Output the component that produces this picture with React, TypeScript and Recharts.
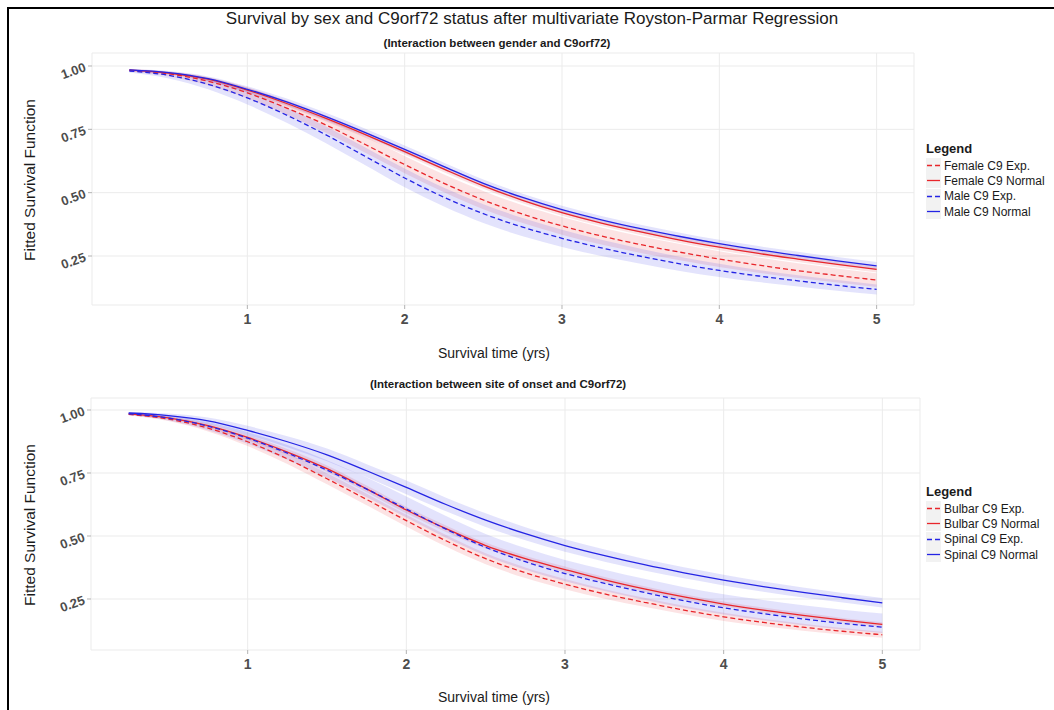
import React from 'react';
import { ComposedChart, Line, Area, XAxis, YAxis, CartesianGrid } from 'recharts';

const FONT = '"Liberation Sans", Arial, Helvetica, sans-serif';

// Survival time (years) at which the fitted curves are read
const times = [0.25, 0.5, 0.75, 1, 1.25, 1.5, 1.75, 2, 2.25, 2.5, 2.75, 3, 3.25, 3.5, 3.75, 4, 4.25, 4.5, 4.75, 5];
const xTicks = [1, 2, 3, 4, 5];
const yTicks = [0.25, 0.5, 0.75, 1.0];

// ---- Top panel: gender x C9orf72 ----
const femaleExp = [0.983, 0.969, 0.940, 0.894, 0.834, 0.767, 0.690, 0.611, 0.537, 0.471, 0.415, 0.369, 0.329, 0.295, 0.265, 0.238, 0.214, 0.192, 0.173, 0.155];
const femaleExpLo = [0.978, 0.959, 0.924, 0.872, 0.808, 0.737, 0.658, 0.577, 0.502, 0.435, 0.380, 0.334, 0.295, 0.262, 0.233, 0.207, 0.184, 0.163, 0.145, 0.128];
const femaleExpHi = [0.987, 0.978, 0.955, 0.915, 0.859, 0.796, 0.722, 0.645, 0.572, 0.507, 0.450, 0.404, 0.363, 0.328, 0.297, 0.269, 0.244, 0.221, 0.201, 0.182];
const femaleNormal = [0.984, 0.972, 0.948, 0.905, 0.852, 0.793, 0.729, 0.662, 0.593, 0.527, 0.470, 0.421, 0.380, 0.345, 0.313, 0.285, 0.260, 0.238, 0.217, 0.197];
const femaleNormalLo = [0.981, 0.967, 0.940, 0.895, 0.840, 0.781, 0.717, 0.650, 0.581, 0.515, 0.458, 0.409, 0.368, 0.333, 0.301, 0.273, 0.248, 0.226, 0.205, 0.185];
const femaleNormalHi = [0.987, 0.977, 0.956, 0.915, 0.864, 0.805, 0.741, 0.674, 0.605, 0.539, 0.482, 0.433, 0.392, 0.357, 0.325, 0.297, 0.272, 0.250, 0.229, 0.209];
const maleExp = [0.980, 0.963, 0.928, 0.874, 0.806, 0.728, 0.643, 0.558, 0.482, 0.417, 0.364, 0.320, 0.282, 0.249, 0.219, 0.193, 0.171, 0.152, 0.134, 0.118];
const maleExpLo = [0.974, 0.951, 0.908, 0.848, 0.776, 0.695, 0.608, 0.521, 0.445, 0.380, 0.328, 0.286, 0.250, 0.219, 0.191, 0.167, 0.147, 0.130, 0.113, 0.098];
const maleExpHi = [0.986, 0.975, 0.948, 0.900, 0.836, 0.761, 0.678, 0.595, 0.519, 0.454, 0.400, 0.354, 0.314, 0.279, 0.247, 0.219, 0.195, 0.174, 0.155, 0.138];
const maleNormal = [0.985, 0.974, 0.950, 0.908, 0.858, 0.800, 0.737, 0.671, 0.603, 0.537, 0.481, 0.433, 0.393, 0.358, 0.327, 0.299, 0.274, 0.252, 0.231, 0.211];
const maleNormalLo = [0.982, 0.968, 0.941, 0.896, 0.844, 0.785, 0.722, 0.656, 0.588, 0.522, 0.466, 0.418, 0.378, 0.343, 0.312, 0.284, 0.259, 0.237, 0.216, 0.196];
const maleNormalHi = [0.988, 0.980, 0.959, 0.920, 0.872, 0.815, 0.752, 0.686, 0.618, 0.552, 0.496, 0.448, 0.408, 0.373, 0.342, 0.314, 0.289, 0.267, 0.246, 0.226];

// ---- Bottom panel: site of onset x C9orf72 ----
const bulbarExp = [0.983, 0.964, 0.928, 0.874, 0.806, 0.727, 0.645, 0.561, 0.481, 0.410, 0.354, 0.309, 0.270, 0.237, 0.206, 0.179, 0.157, 0.138, 0.122, 0.108];
const bulbarExpLo = [0.979, 0.956, 0.915, 0.857, 0.786, 0.705, 0.622, 0.538, 0.458, 0.388, 0.333, 0.289, 0.251, 0.219, 0.189, 0.163, 0.142, 0.124, 0.109, 0.096];
const bulbarExpHi = [0.987, 0.972, 0.941, 0.891, 0.826, 0.749, 0.668, 0.584, 0.504, 0.432, 0.375, 0.329, 0.289, 0.255, 0.223, 0.195, 0.172, 0.152, 0.135, 0.120];
const bulbarNormal = [0.985, 0.969, 0.938, 0.891, 0.833, 0.767, 0.687, 0.603, 0.529, 0.462, 0.410, 0.367, 0.326, 0.290, 0.258, 0.230, 0.206, 0.185, 0.166, 0.149];
const bulbarNormalLo = [0.982, 0.964, 0.930, 0.881, 0.821, 0.754, 0.674, 0.590, 0.516, 0.450, 0.398, 0.355, 0.315, 0.279, 0.247, 0.220, 0.196, 0.175, 0.157, 0.140];
const bulbarNormalHi = [0.988, 0.974, 0.946, 0.901, 0.845, 0.780, 0.700, 0.616, 0.542, 0.474, 0.422, 0.379, 0.337, 0.301, 0.269, 0.240, 0.216, 0.195, 0.175, 0.158];
const spinalExp = [0.985, 0.968, 0.936, 0.888, 0.829, 0.761, 0.686, 0.607, 0.527, 0.455, 0.398, 0.351, 0.312, 0.276, 0.243, 0.215, 0.192, 0.171, 0.153, 0.138];
const spinalExpLo = [0.980, 0.958, 0.920, 0.866, 0.803, 0.731, 0.654, 0.573, 0.493, 0.422, 0.366, 0.320, 0.282, 0.247, 0.215, 0.188, 0.166, 0.146, 0.129, 0.115];
const spinalExpHi = [0.989, 0.978, 0.952, 0.912, 0.861, 0.801, 0.732, 0.657, 0.579, 0.508, 0.452, 0.405, 0.366, 0.330, 0.297, 0.269, 0.246, 0.225, 0.207, 0.192];
const spinalNormal = [0.988, 0.978, 0.957, 0.919, 0.874, 0.822, 0.759, 0.693, 0.625, 0.563, 0.509, 0.462, 0.422, 0.386, 0.354, 0.325, 0.299, 0.276, 0.255, 0.235];
const spinalNormalLo = [0.984, 0.970, 0.944, 0.901, 0.852, 0.797, 0.733, 0.666, 0.598, 0.536, 0.483, 0.437, 0.398, 0.363, 0.332, 0.304, 0.279, 0.256, 0.236, 0.216];
const spinalNormalHi = [0.992, 0.986, 0.970, 0.937, 0.896, 0.847, 0.785, 0.720, 0.652, 0.590, 0.535, 0.487, 0.446, 0.409, 0.376, 0.346, 0.319, 0.296, 0.274, 0.254];

const RED = '#e8262b';
const BLUE = '#2424e4';

type Series = { key: string; name: string; color: string; dashed: boolean; vals: number[]; lo: number[]; hi: number[] };

const topSeries: Series[] = [
  { key: 'fe', name: 'Female C9 Exp.', color: RED, dashed: true, vals: femaleExp, lo: femaleExpLo, hi: femaleExpHi },
  { key: 'fn', name: 'Female C9 Normal', color: RED, dashed: false, vals: femaleNormal, lo: femaleNormalLo, hi: femaleNormalHi },
  { key: 'me', name: 'Male C9 Exp.', color: BLUE, dashed: true, vals: maleExp, lo: maleExpLo, hi: maleExpHi },
  { key: 'mn', name: 'Male C9 Normal', color: BLUE, dashed: false, vals: maleNormal, lo: maleNormalLo, hi: maleNormalHi },
];

const bottomSeries: Series[] = [
  { key: 'be', name: 'Bulbar C9 Exp.', color: RED, dashed: true, vals: bulbarExp, lo: bulbarExpLo, hi: bulbarExpHi },
  { key: 'bn', name: 'Bulbar C9 Normal', color: RED, dashed: false, vals: bulbarNormal, lo: bulbarNormalLo, hi: bulbarNormalHi },
  { key: 'se', name: 'Spinal C9 Exp.', color: BLUE, dashed: true, vals: spinalExp, lo: spinalExpLo, hi: spinalExpHi },
  { key: 'sn', name: 'Spinal C9 Normal', color: BLUE, dashed: false, vals: spinalNormal, lo: spinalNormalLo, hi: spinalNormalHi },
];

function buildRows(series: Series[]) {
  return times.map((t, i) => {
    const row: any = { t };
    series.forEach((s) => {
      row[s.key] = s.vals[i];
      row[s.key + 'Band'] = [s.lo[i], s.hi[i]];
    });
    return row;
  });
}

const XTick = (props: any) => {
  const { x, y, payload } = props;
  return (
    <text x={x} y={y + 13} textAnchor="middle" fontFamily={FONT} fontSize={14} fontWeight="bold" fill="#4d4d4d">
      {payload.value}
    </text>
  );
};

const YTick = (props: any) => {
  const { x, y, payload } = props;
  const ax = x - 1;
  return (
    <text
      x={ax}
      y={y + 5}
      textAnchor="end"
      transform={`rotate(-20 ${ax} ${y})`}
      fontFamily={FONT}
      fontSize={13}
      fontWeight="bold"
      fill="#4d4d4d"
    >
      {Number(payload.value).toFixed(2)}
    </text>
  );
};

function LegendBox({ series, left, top }: { series: Series[]; left: number; top: number }) {
  return (
    <div style={{ position: 'absolute', left, top, fontFamily: FONT, color: '#1a1a1a' }}>
      <div style={{ fontWeight: 'bold', fontSize: 13, lineHeight: '16px', marginBottom: 1 }}>Legend</div>
      {series.map((s) => (
        <div key={s.key} style={{ display: 'flex', alignItems: 'center', height: 15.3, fontSize: 12 }}>
          <svg width={15} height={15} style={{ marginRight: 3, display: 'block' }}>
            <rect x={0} y={0} width={15} height={15} fill="#f2f2f2" />
            <line x1={1} y1={7.5} x2={14} y2={7.5} stroke={s.color} strokeWidth={1.3} strokeDasharray={s.dashed ? '5 3' : undefined} />
          </svg>
          <span style={{ whiteSpace: 'nowrap' }}>{s.name}</span>
        </div>
      ))}
    </div>
  );
}

function Panel({ series, top, yDomain, marginLeft, marginRight }: { series: Series[]; top: number; yDomain: [number, number]; marginLeft: number; marginRight: number }) {
  const rows = buildRows(series);
  return (
    <div style={{ position: 'absolute', left: 0, top, width: 1054, height: 345 }}>
      <ComposedChart width={1054} height={345} data={rows} margin={{ top: 53, right: marginRight, bottom: 10, left: marginLeft }}>
        <CartesianGrid stroke="#ebebeb" strokeWidth={1} />
        <XAxis
          type="number"
          dataKey="t"
          domain={[0.0125, 5.2375]}
          ticks={xTicks}
          interval={0}
          allowDataOverflow
          axisLine={false}
          tickLine={{ stroke: '#b3b3b3' }}
          tickSize={4}
          height={30}
          tick={<XTick />}
        />
        <YAxis
          type="number"
          domain={yDomain}
          ticks={yTicks}
          interval={0}
          allowDataOverflow
          axisLine={false}
          tickLine={{ stroke: '#b3b3b3' }}
          tickSize={4}
          width={60}
          tick={<YTick />}
        />
        {series.map((s) => (
          <Area
            key={s.key + 'Band'}
            dataKey={s.key + 'Band'}
            type="monotone"
            stroke="none"
            fill={s.color}
            fillOpacity={0.13}
            isAnimationActive={false}
            activeDot={false}
          />
        ))}
        {series.map((s) => (
          <Line
            key={s.key}
            dataKey={s.key}
            name={s.name}
            type="monotone"
            stroke={s.color}
            strokeWidth={1.3}
            strokeDasharray={s.dashed ? '5 3' : undefined}
            dot={false}
            activeDot={false}
            isAnimationActive={false}
          />
        ))}
      </ComposedChart>
    </div>
  );
}

const textBase: React.CSSProperties = { position: 'absolute', fontFamily: FONT, whiteSpace: 'nowrap', lineHeight: 1 };

export default function App() {
  return (
    <div style={{ position: 'absolute', left: 0, top: 0, width: 1054, height: 710, overflow: 'hidden', background: '#fff' }}>
      <div style={{ position: 'absolute', left: 7, top: 7, width: 1100, height: 800, borderLeft: '2px solid #000', borderTop: '2px solid #000' }} />

      <Panel series={topSeries} top={0} yDomain={[0.0566, 1.0513]} marginLeft={32} marginRight={140} />
      <Panel series={bottomSeries} top={345} yDomain={[0.0476, 1.0476]} marginLeft={31} marginRight={134} />

      <div style={{ ...textBase, left: 0, width: 1064, textAlign: 'center', top: 10, fontSize: 17, color: '#1a1a1a' }}>
        Survival by sex and C9orf72 status after multivariate Royston-Parmar Regression
      </div>
      <div style={{ ...textBase, left: 0, width: 994, textAlign: 'center', top: 38, fontSize: 11.5, fontWeight: 'bold', color: '#1a1a1a' }}>
        (Interaction between gender and C9orf72)
      </div>
      <div style={{ ...textBase, left: 0, width: 996, textAlign: 'center', top: 379, fontSize: 11.5, fontWeight: 'bold', color: '#1a1a1a' }}>
        (Interaction between site of onset and C9orf72)
      </div>

      <div style={{ ...textBase, left: 0, width: 988, textAlign: 'center', top: 346, fontSize: 14, color: '#1a1a1a' }}>
        Survival time (yrs)
      </div>
      <div style={{ ...textBase, left: 0, width: 988, textAlign: 'center', top: 690, fontSize: 14, color: '#1a1a1a' }}>
        Survival time (yrs)
      </div>

      <div style={{ ...textBase, left: 30, top: 180, fontSize: 15.5, color: '#1a1a1a', transform: 'translate(-50%, -50%) rotate(-90deg)' }}>
        Fitted Survival Function
      </div>
      <div style={{ ...textBase, left: 30, top: 525, fontSize: 15.5, color: '#1a1a1a', transform: 'translate(-50%, -50%) rotate(-90deg)' }}>
        Fitted Survival Function
      </div>

      <LegendBox series={topSeries} left={926} top={141} />
      <LegendBox series={bottomSeries} left={926} top={484} />
    </div>
  );
}
